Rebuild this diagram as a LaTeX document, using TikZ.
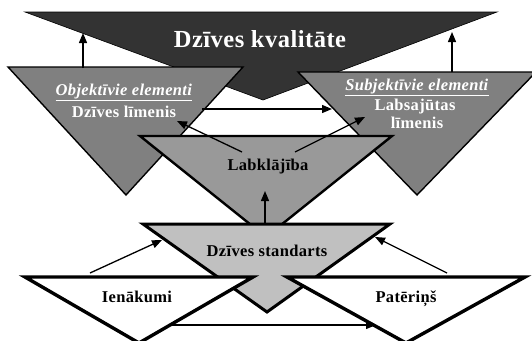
\documentclass[tikz,border=0pt]{standalone}
\usepackage{fontspec}
\setmainfont[LetterSpace=2]{Liberation Serif}
\usetikzlibrary{arrows.meta}

\definecolor{kvalgray}{HTML}{333333}
\definecolor{elemgray}{HTML}{808080}
\definecolor{labgray}{HTML}{999999}
\definecolor{stdgray}{HTML}{C0C0C0}

\tikzset{
  arr/.style={line width=1.3pt, -{Triangle[length=10pt,width=8pt]}},
  lbl/.style={font=\bfseries\fontsize{16.5}{19}\selectfont, anchor=base, inner sep=0pt},
  wlbl/.style={lbl, text=white},
}

\begin{document}
\begin{tikzpicture}[x=1pt,y=-1pt,line join=miter]
\useasboundingbox (0,0) rectangle (532,340);

% corners of the triangles
\coordinate (Ka) at (25,12);
\coordinate (Kb) at (497,12);
\coordinate (Kc) at (263,100);

\coordinate (Oa) at (8,67);
\coordinate (Ob) at (243,67);
\coordinate (Oc) at (126,195);

\coordinate (Sa) at (298,72);
\coordinate (Sb) at (536,72);
\coordinate (Sc) at (417,195);

\coordinate (La) at (140,136);
\coordinate (Lb) at (392,136);
\coordinate (Lc) at (266,237);

\coordinate (Da) at (143,224);
\coordinate (Db) at (390,224);
\coordinate (Dc) at (267,312);

\coordinate (Ia) at (25,277);
\coordinate (Ib) at (253,277);
\coordinate (Ic) at (139,343);

\coordinate (Pa) at (287,277);
\coordinate (Pb) at (525,277);
\coordinate (Pc) at (406,343);

\filldraw[fill=kvalgray, draw=black, line width=0.6pt] (Ka) -- (Kb) -- (Kc) -- cycle;
\filldraw[fill=elemgray, draw=black, line width=1.4pt] (Oa) -- (Ob) -- (Oc) -- cycle;
\filldraw[fill=elemgray, draw=black, line width=1.4pt] (Sa) -- (Sb) -- (Sc) -- cycle;
\filldraw[fill=labgray, draw=black, line width=2.4pt] (La) -- (Lb) -- (Lc) -- cycle;
\filldraw[fill=stdgray, draw=black, line width=3pt] (Da) -- (Db) -- (Dc) -- cycle;
\filldraw[fill=white, draw=black, line width=3.4pt] (Ia) -- (Ib) -- (Ic) -- cycle;
\filldraw[fill=white, draw=black, line width=3.4pt] (Pa) -- (Pb) -- (Pc) -- cycle;

% labels
\node[wlbl, font=\bfseries\fontsize{24.5}{27}\selectfont] (kval) at (260,47) {Dzīves kvalitāte};
\node[wlbl] (objH) at (124,95) {\underline{\textit{Objektīvie elementi}}};
\node[wlbl] (objL) at (124,117) {Dzīves līmenis};
\node[wlbl] (subH) at (417,90) {\underline{\textit{Subjektīvie elementi}}};
\node[wlbl] (subL) at (415,110) {Labsajūtas};
\node[wlbl] (subM) at (417,128) {līmenis};
\node[lbl] (labk) at (268,170) {Labklājība};
\node[lbl] (dstd) at (267,256) {Dzīves standarts};
\node[lbl] (ienk) at (137,302) {Ienākumi};
\node[lbl] (pate) at (406,302) {Patēriņš};

% arrow ends
\coordinate (aOb) at (83,68);
\coordinate (aKa) at (83,33);
\coordinate (aSb) at (452,72);
\coordinate (aKb) at (452,32);
\coordinate (hO) at (202,109);
\coordinate (hS) at (332,109);
\coordinate (lL) at (242,152);
\coordinate (lO) at (177,121);
\coordinate (rL) at (295,152);
\coordinate (rS) at (365,117);
\coordinate (uD) at (265,223);
\coordinate (uL) at (265,191);
\coordinate (iI) at (90,273);
\coordinate (iD) at (162,240);
\coordinate (pP) at (447,273);
\coordinate (pD) at (375,237);
\coordinate (bI) at (168,325);
\coordinate (bP) at (376,325);

\draw[arr] (aOb) -- (aKa);
\draw[arr] (aSb) -- (aKb);
\draw[arr] (hO) -- (hS);
\draw[arr] (lL) -- (lO);
\draw[arr] (rL) -- (rS);
\draw[arr] (uD) -- (uL);
\draw[arr] (iI) -- (iD);
\draw[arr] (pP) -- (pD);
\draw[arr] (bI) -- (bP);

\end{tikzpicture}
\end{document}
